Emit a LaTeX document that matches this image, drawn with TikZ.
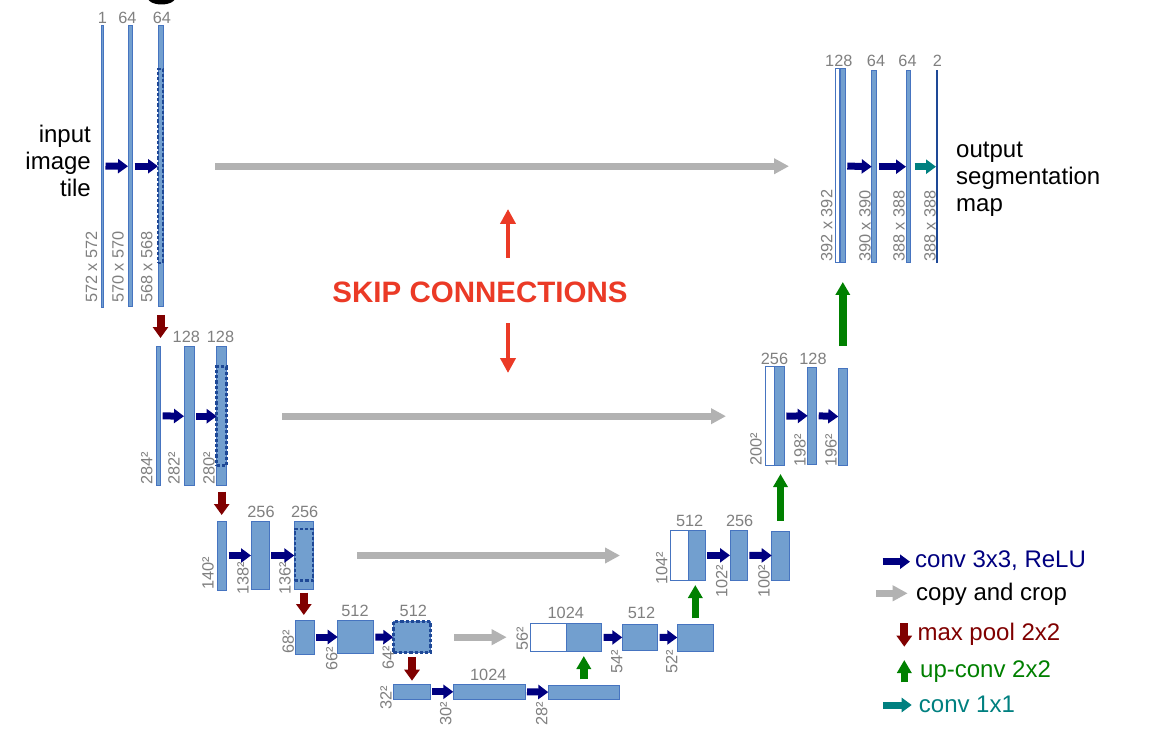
\documentclass[tikz,border=0pt]{standalone}
\usepackage{fontspec}
\setmainfont{Liberation Sans}
\usetikzlibrary{arrows.meta,fit,calc}
\definecolor{blueF}{RGB}{114,159,207}
\definecolor{blueB}{RGB}{70,116,192}
\definecolor{blueD}{RGB}{30,72,150}
\definecolor{labgray}{RGB}{128,128,128}
\definecolor{navyA}{RGB}{0,0,128}
\definecolor{grayA}{RGB}{178,178,178}
\definecolor{poolred}{RGB}{128,0,0}
\definecolor{upgreen}{RGB}{0,128,0}
\definecolor{tealA}{RGB}{0,128,128}
\definecolor{skipred}{RGB}{235,58,38}
\newcommand\labfont{\fontsize{16.3}{16}\selectfont}
\newcommand\bigfont{\fontsize{24}{27}\selectfont}
\begin{document}
\begin{tikzpicture}[x=1pt,y=-1pt,
  blk/.style={draw=blueB, fill=blueF, line width=1pt, inner sep=0pt, outer sep=0pt},
  wblk/.style={draw=blueB, fill=white, line width=1pt, inner sep=0pt, outer sep=0pt},
  thinblk/.style={draw=blueB, fill=blueF, line width=0.8pt, inner sep=0pt, outer sep=0pt},
  dsh/.style={draw=blueD, line width=2.5pt, dash pattern=on 3.3pt off 2pt, inner sep=0pt, outer sep=0pt},
  lab/.style={font=\labfont, text=labgray, inner sep=0pt, anchor=base},
  vlab/.style={font=\labfont, text=labgray, inner sep=0pt, rotate=90, anchor=west},
  convarr/.style={draw=navyA, line width=7pt, -{Triangle[length=10pt,width=14pt]}, shorten <=2pt},
  onearr/.style={draw=tealA, line width=7pt, -{Triangle[length=10pt,width=14pt]}},
  copyarr/.style={draw=grayA, line width=7pt, -{Triangle[length=15pt,width=15pt]}},
  poolarr/.style={draw=poolred, line width=8pt, -{Triangle[length=11pt,width=15pt]}},
  uparr/.style={draw=upgreen, line width=7.5pt, -{Triangle[length=13pt,width=14pt]}},
  skiparr/.style={draw=skipred, line width=4.5pt, -{Triangle[length=15pt,width=15pt]}},
  bigtext/.style={font=\bigfont, inner sep=0pt}
]
\path[use as bounding box, fill=white] (0,0) rectangle (1152,754);
% cut-off glyph at top
\fill[black] (161.5,-4) ellipse [x radius=15, y radius=8.5];

% ---------- level 1 (encoder)
\node[thinblk, fit={(101.5,25) (103.5,307)}] (A1) {};
\node[blk, fit={(128,26) (132.5,306.5)}] (A2) {};
\node[blk, fit={(158,26) (163,306.5)}] (A3) {};
\node[dsh, fit={(158,69) (163,263)}] (A3d) {};
\node[lab] (tA1) at (102.5,24) {1};
\node[lab] (tA2) at (127.5,24) {64};
\node[lab] (tA3) at (162,24) {64};
\node[vlab] (sA1) at (91.5,303) {572 x 572};
\node[vlab] (sA2) at (118,303) {570 x 570};
\node[vlab] (sA3) at (146.7,303) {568 x 568};
\node[bigtext, anchor=base east] (in1) at (91,143) {input};
\node[bigtext, anchor=base east] (in2) at (91,170) {image};
\node[bigtext, anchor=base east] (in3) at (91,197) {tile};

% ---------- level 2
\node[blk, fit={(156,346) (160.7,485.7)}] (B1) {};
\node[blk, fit={(184,346.7) (194,485.7)}] (B2) {};
\node[blk, fit={(216.7,346.7) (226.7,485.7)}] (B3) {};
\node[dsh, fit={(216.7,366.7) (226.7,465.7)}] (B3d) {};
\node[lab] (tB2) at (186.3,342) {128};
\node[lab] (tB3) at (220.5,342) {128};
\node[vlab] (sB1) at (146.7,485) {284²};
\node[vlab] (sB2) at (174,485) {282²};
\node[vlab] (sB3) at (209,485) {280²};

% ---------- level 3
\node[blk, fit={(217.3,521) (226.7,590)}] (C1) {};
\node[blk, fit={(251,521.7) (269,589.3)}] (C2) {};
\node[blk, fit={(294.3,521.7) (313.3,589.3)}] (C3) {};
\node[dsh, fit={(294.8,529) (312.8,580.7)}] (C3d) {};
\node[lab] (tC2) at (261,517.5) {256};
\node[lab] (tC3) at (304.7,517.5) {256};
\node[vlab] (sC1) at (208,590) {140²};
\node[vlab] (sC2) at (243,595) {138²};
\node[vlab] (sC3) at (285,595) {136²};

% ---------- level 4
\node[blk, fit={(295.7,620) (314,654)}] (D1) {};
\node[blk, fit={(337.7,620.7) (373.3,653.3)}] (D2) {};
\node[blk, fit={(393.3,621.7) (430.7,652.7)}] (D3) {};
\node[dsh, fit={(393.3,621.7) (430.7,652.7)}] (D3d) {};
\node[lab] (tD2) at (355,616) {512};
\node[lab] (tD3) at (413.3,616) {512};
\node[vlab] (sD1) at (288.3,654) {68²};
\node[vlab] (sD2) at (331.7,670.7) {66²};
\node[vlab] (sD3) at (388.3,670) {64²};

% ---------- level 5 (bottom)
\node[blk, fit={(393.3,684.3) (430,699.3)}] (E1) {};
\node[blk, fit={(453.3,684.3) (525,699.3)}] (E2) {};
\node[blk, fit={(548.3,685) (619.3,699.3)}] (E3) {};
\node[lab] (tE2) at (488.3,680) {1024};
\node[vlab] (sE1) at (386,710) {32²};
\node[vlab] (sE2) at (445.7,726) {30²};
\node[vlab] (sE3) at (541.7,726) {28²};

% ---------- decoder level 4
\node[wblk, fit={(530,623.3) (566,651.7)}] (U4w) {};
\node[blk, fit={(566,623.3) (601.7,651.7)}] (U4b) {};
\node[blk, fit={(622.3,624) (657.7,650.7)}] (U4c) {};
\node[blk, fit={(677.3,624) (713.3,651)}] (U4d) {};
\node[lab] (tU4b) at (565.8,618) {1024};
\node[lab] (tU4c) at (641.5,618) {512};
\node[vlab] (sU4w) at (522.3,650.7) {56²};
\node[vlab] (sU4c) at (616.7,674) {54²};
\node[vlab] (sU4d) at (671.7,674) {52²};

% ---------- decoder level 3
\node[wblk, fit={(670,530) (688.3,580.7)}] (U3w) {};
\node[blk, fit={(688.3,530) (705,580.7)}] (U3b) {};
\node[blk, fit={(730,530.7) (747.3,580)}] (U3c) {};
\node[blk, fit={(771.7,531) (789.3,580)}] (U3d) {};
\node[lab] (tU3b) at (689.7,526.5) {512};
\node[lab] (tU3c) at (739.7,526.5) {256};
\node[vlab] (sU3w) at (661.7,585) {104²};
\node[vlab] (sU3c) at (721.7,598) {102²};
\node[vlab] (sU3d) at (764,598) {100²};

% ---------- decoder level 2
\node[wblk, fit={(765.3,366.7) (774,465.7)}] (U2w) {};
\node[blk, fit={(774,366.7) (784.3,465.7)}] (U2b) {};
\node[blk, fit={(807.7,367.3) (816.7,464.3)}] (U2c) {};
\node[blk, fit={(838.3,368) (847.3,465)}] (U2d) {};
\node[lab] (tU2b) at (774.5,364) {256};
\node[lab] (tU2c) at (813,364) {128};
\node[vlab] (sU2w) at (756,466) {200²};
\node[vlab] (sU2c) at (800,467) {198²};
\node[vlab] (sU2d) at (831,467) {196²};

% ---------- decoder level 1
\node[wblk, fit={(835,69) (839.5,263)}] (U1w) {};
\node[blk, fit={(840,69) (845.3,263)}] (U1b) {};
\node[blk, fit={(871.7,70.7) (876.7,262.7)}] (U1c) {};
\node[blk, fit={(906,70.7) (910.7,262.7)}] (U1d) {};
\node[thinblk, draw=blueD, fit={(936,70.7) (937.3,262.7)}] (U1e) {};
\node[lab] (tU1b) at (838.8,66.7) {128};
\node[lab] (tU1c) at (876,67) {64};
\node[lab] (tU1d) at (907.5,67) {64};
\node[lab] (tU1e) at (937.5,67) {2};
\node[vlab] (sU1w) at (826.7,261.7) {392 x 392};
\node[vlab] (sU1c) at (865,262) {390 x 390};
\node[vlab] (sU1d) at (899,262) {388 x 388};
\node[vlab] (sU1e) at (930,262) {388 x 388};
\node[bigtext, anchor=base west] (out1) at (956,158) {output};
\node[bigtext, anchor=base west] (out2) at (956,185) {segmentation};
\node[bigtext, anchor=base west] (out3) at (956,212) {map};

% ---------- conv 3x3 arrows
\draw[convarr] (A1.east) -- (A2.west);
\draw[convarr] (A2.east) -- (A3.west);
\draw[convarr] (B1.east) -- (B2.west);
\draw[convarr] (B2.east) -- (B3.west);
\draw[convarr] (C1.east) -- (C2.west);
\draw[convarr] (C2.east) -- (C3.west);
\draw[convarr] (D1.east) -- (D2.west);
\draw[convarr] (D2.east) -- (D3.west);
\draw[convarr] (E1.east) -- (E2.west);
\draw[convarr] (E2.east) -- (E3.west);
\draw[convarr] (U4b.east) -- (U4c.west);
\draw[convarr] (U4c.east) -- (U4d.west);
\draw[convarr] (U3b.east) -- (U3c.west);
\draw[convarr] (U3c.east) -- (U3d.west);
\draw[convarr] (U2b.east) -- (U2c.west);
\draw[convarr] (U2c.east) -- (U2d.west);
\draw[convarr] (U1b.east) -- (U1c.west);
\draw[convarr] (U1c.east) -- (U1d.west);
\draw[onearr, shorten <=4pt] (U1d.east) -- (U1e.west);

% ---------- max pool
\draw[poolarr, shorten <=8.5pt, shorten >=8pt] (A3.south) -- (A3.south |- B1.north);
\draw[poolarr, shorten <=6pt, shorten >=6pt] (B3.south) -- (B3.south |- C1.north);
\draw[poolarr, shorten <=3.4pt, shorten >=5pt] (C3.south) -- (C3.south |- D1.north);
\draw[poolarr, shorten <=4.6pt, shorten >=3.6pt] (D3.south) -- (D3.south |- E1.north);

% ---------- up-conv
\draw[uparr, shorten <=5.7pt, shorten >=4.3pt] (E3.north) -- (E3.north |- U4b.south);
\draw[uparr, shorten <=5.7pt, shorten >=4.3pt] (U4d.north) -- (U4d.north |- U3b.south);
\draw[uparr, shorten <=10.3pt, shorten >=8.3pt] (U3d.north) -- (U3d.north |- U2b.south);
\draw[uparr, shorten <=22pt, shorten >=19pt] (U2d.north) -- (U2d.north |- U1b.south);

% ---------- copy and crop
\draw[copyarr, shorten <=52pt, shorten >=46pt] (A3.east) -- (A3.east -| U1w.west);
\draw[copyarr, shorten <=55.3pt, shorten >=39.3pt] (B3.east) -- (B3.east -| U2w.west);
\draw[copyarr, shorten <=43.7pt, shorten >=50pt] (C3.east) -- (C3.east -| U3w.west);
\draw[copyarr, shorten <=23.6pt, shorten >=23.3pt] (D3.east) -- (D3.east -| U4w.west);

% ---------- skip connections annotation
\node[font=\bfseries\fontsize{29.5}{30}\selectfont, text=skipred, anchor=base, inner sep=0pt] (skip) at (480,303) {SKIP CONNECTIONS};
\coordinate (su1) at (508,258);
\coordinate (su2) at (508,209);
\coordinate (sd1) at (508,323);
\coordinate (sd2) at (508,373);
\draw[skiparr] (su1) -- (su2);
\draw[skiparr] (sd1) -- (sd2);

% ---------- legend
\coordinate (L1a) at (882.7,561.7); \coordinate (L1b) at (910,561.7);
\coordinate (L2a) at (876,593.3);   \coordinate (L2b) at (907.7,593.3);
\coordinate (L3a) at (904.3,623.3); \coordinate (L3b) at (904.3,646.7);
\coordinate (L4a) at (904.3,682.3); \coordinate (L4b) at (904.3,660);
\coordinate (L5a) at (883.3,705);   \coordinate (L5b) at (911.7,705);
\draw[convarr, shorten <=0pt] (L1a) -- (L1b);
\draw[copyarr] (L2a) -- (L2b);
\draw[poolarr] (L3a) -- (L3b);
\draw[uparr] (L4a) -- (L4b);
\draw[onearr] (L5a) -- (L5b);
\node[bigtext, anchor=base west, text=navyA] (lg1) at (915,567.3) {conv 3x3, ReLU};
\node[bigtext, anchor=base west, text=black] (lg2) at (916,600) {copy and crop};
\node[bigtext, anchor=base west, text=poolred] (lg3) at (917.3,640) {max pool 2x2};
\node[bigtext, anchor=base west, text=upgreen] (lg4) at (920,677.3) {up-conv 2x2};
\node[bigtext, anchor=base west, text=tealA] (lg5) at (918.7,712.7) {conv 1x1};
\end{tikzpicture}
\end{document}
